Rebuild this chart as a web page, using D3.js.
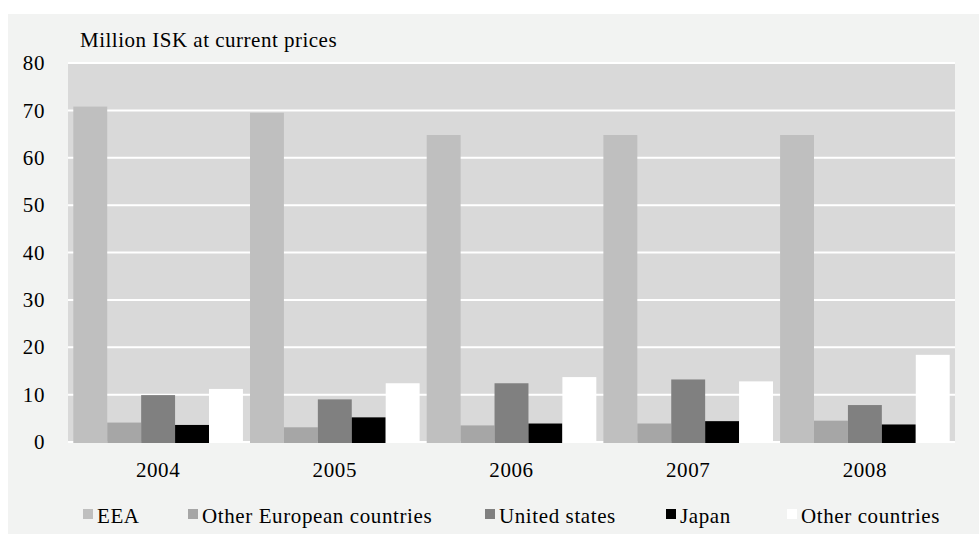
<!DOCTYPE html>
<html>
<head>
<meta charset="utf-8">
<script src="https://cdn.jsdelivr.net/npm/d3@7"></script>
<style>
  body { margin: 0; background: #ffffff; }
</style>
</head>
<body>
<svg id="chart" width="979" height="534" font-family="'Liberation Serif', 'DejaVu Serif', serif"></svg>
<script>
// data
var years = ["2004", "2005", "2006", "2007", "2008"];
var seriesNames = ["EEA", "Other European countries", "United states", "Japan", "Other countries"];
var eea        = [70.8, 69.5, 64.8, 64.8, 64.8];
var otherEurope = [4.1, 3.1, 3.5, 3.9, 4.5];
var unitedStates = [9.9, 9.0, 12.4, 13.2, 7.8];
var japan      = [3.6, 5.2, 3.9, 4.4, 3.7];
var otherCountries = [11.2, 12.4, 13.7, 12.8, 18.4];
var yTicks = [0, 10, 20, 30, 40, 50, 60, 70, 80];

var seriesValues = [eea, otherEurope, unitedStates, japan, otherCountries];
var colors = ["#bfbfbf", "#a6a6a6", "#808080", "#000000", "#ffffff"];
var fontFam = "'Liberation Serif', 'DejaVu Serif', serif";

var svg = d3.select("#chart");
var plot = {left: 68, right: 955, top: 63, bottom: 442};

// outer panel
svg.append("rect")
    .attr("x", 8).attr("y", 14)
    .attr("width", 979 - 8).attr("height", 534 - 14)
    .attr("fill", "#f2f3f2");

// plot area
svg.append("rect")
    .attr("x", plot.left).attr("y", plot.top)
    .attr("width", plot.right - plot.left).attr("height", plot.bottom - plot.top)
    .attr("fill", "#d9d9d9");

var x = d3.scaleBand().domain(years)
    .range([plot.left, plot.right])
    .paddingInner(0.04).paddingOuter(0.03);
var xs = d3.scaleBand().domain(seriesNames).range([0, x.bandwidth()]).padding(0);
var y = d3.scaleLinear().domain([0, 80]).range([plot.bottom, plot.top]);

// gridlines
svg.append("g")
    .selectAll("line")
    .data(yTicks)
    .enter().append("line")
    .attr("x1", plot.left).attr("x2", plot.right)
    .attr("y1", d => y(d)).attr("y2", d => y(d))
    .attr("stroke", "#ffffff")
    .attr("stroke-width", 2);

// y labels
svg.append("g")
    .selectAll("text")
    .data(yTicks)
    .enter().append("text")
    .attr("x", 45)
    .attr("y", d => y(d))
    .attr("dy", "0.34em")
    .attr("text-anchor", "end")
    .style("font-family", fontFam)
    .style("font-size", "21px")
    .style("letter-spacing", "0.6px")
    .text(d => d);

// bars
var groups = svg.append("g")
    .selectAll("g")
    .data(years)
    .enter().append("g")
    .attr("transform", d => "translate(" + x(d) + ",0)");

groups.selectAll("rect")
    .data((yr, i) => seriesNames.map((s, j) => ({name: s, value: seriesValues[j][i], color: colors[j]})))
    .enter().append("rect")
    .attr("x", d => xs(d.name))
    .attr("y", d => y(d.value))
    .attr("width", xs.bandwidth())
    .attr("height", d => plot.bottom + 1 - y(d.value))
    .attr("fill", d => d.color);

// x labels
svg.append("g")
    .selectAll("text")
    .data(years)
    .enter().append("text")
    .attr("x", d => x(d) + x.bandwidth() / 2)
    .attr("y", 477)
    .attr("text-anchor", "middle")
    .style("font-family", fontFam)
    .style("font-size", "21px")
    .style("letter-spacing", "0.6px")
    .text(d => d);

// axis title
svg.append("text")
    .attr("x", 80).attr("y", 47)
    .style("font-family", fontFam)
    .style("font-size", "21px")
    .style("letter-spacing", "0.5px")
    .text("Million ISK at current prices");

// legend
var legendX = [83, 188, 485, 666, 787];
var legend = svg.append("g")
    .selectAll("g")
    .data(seriesNames)
    .enter().append("g")
    .attr("transform", (d, i) => "translate(" + legendX[i] + ",0)");

legend.append("rect")
    .attr("x", 0).attr("y", 509)
    .attr("width", 10).attr("height", 10)
    .attr("fill", (d, i) => colors[i]);

legend.append("text")
    .attr("x", 14).attr("y", 523)
    .style("font-family", fontFam)
    .style("font-size", "21px")
    .style("letter-spacing", "0.6px")
    .text(d => d);
</script>
</body>
</html>
